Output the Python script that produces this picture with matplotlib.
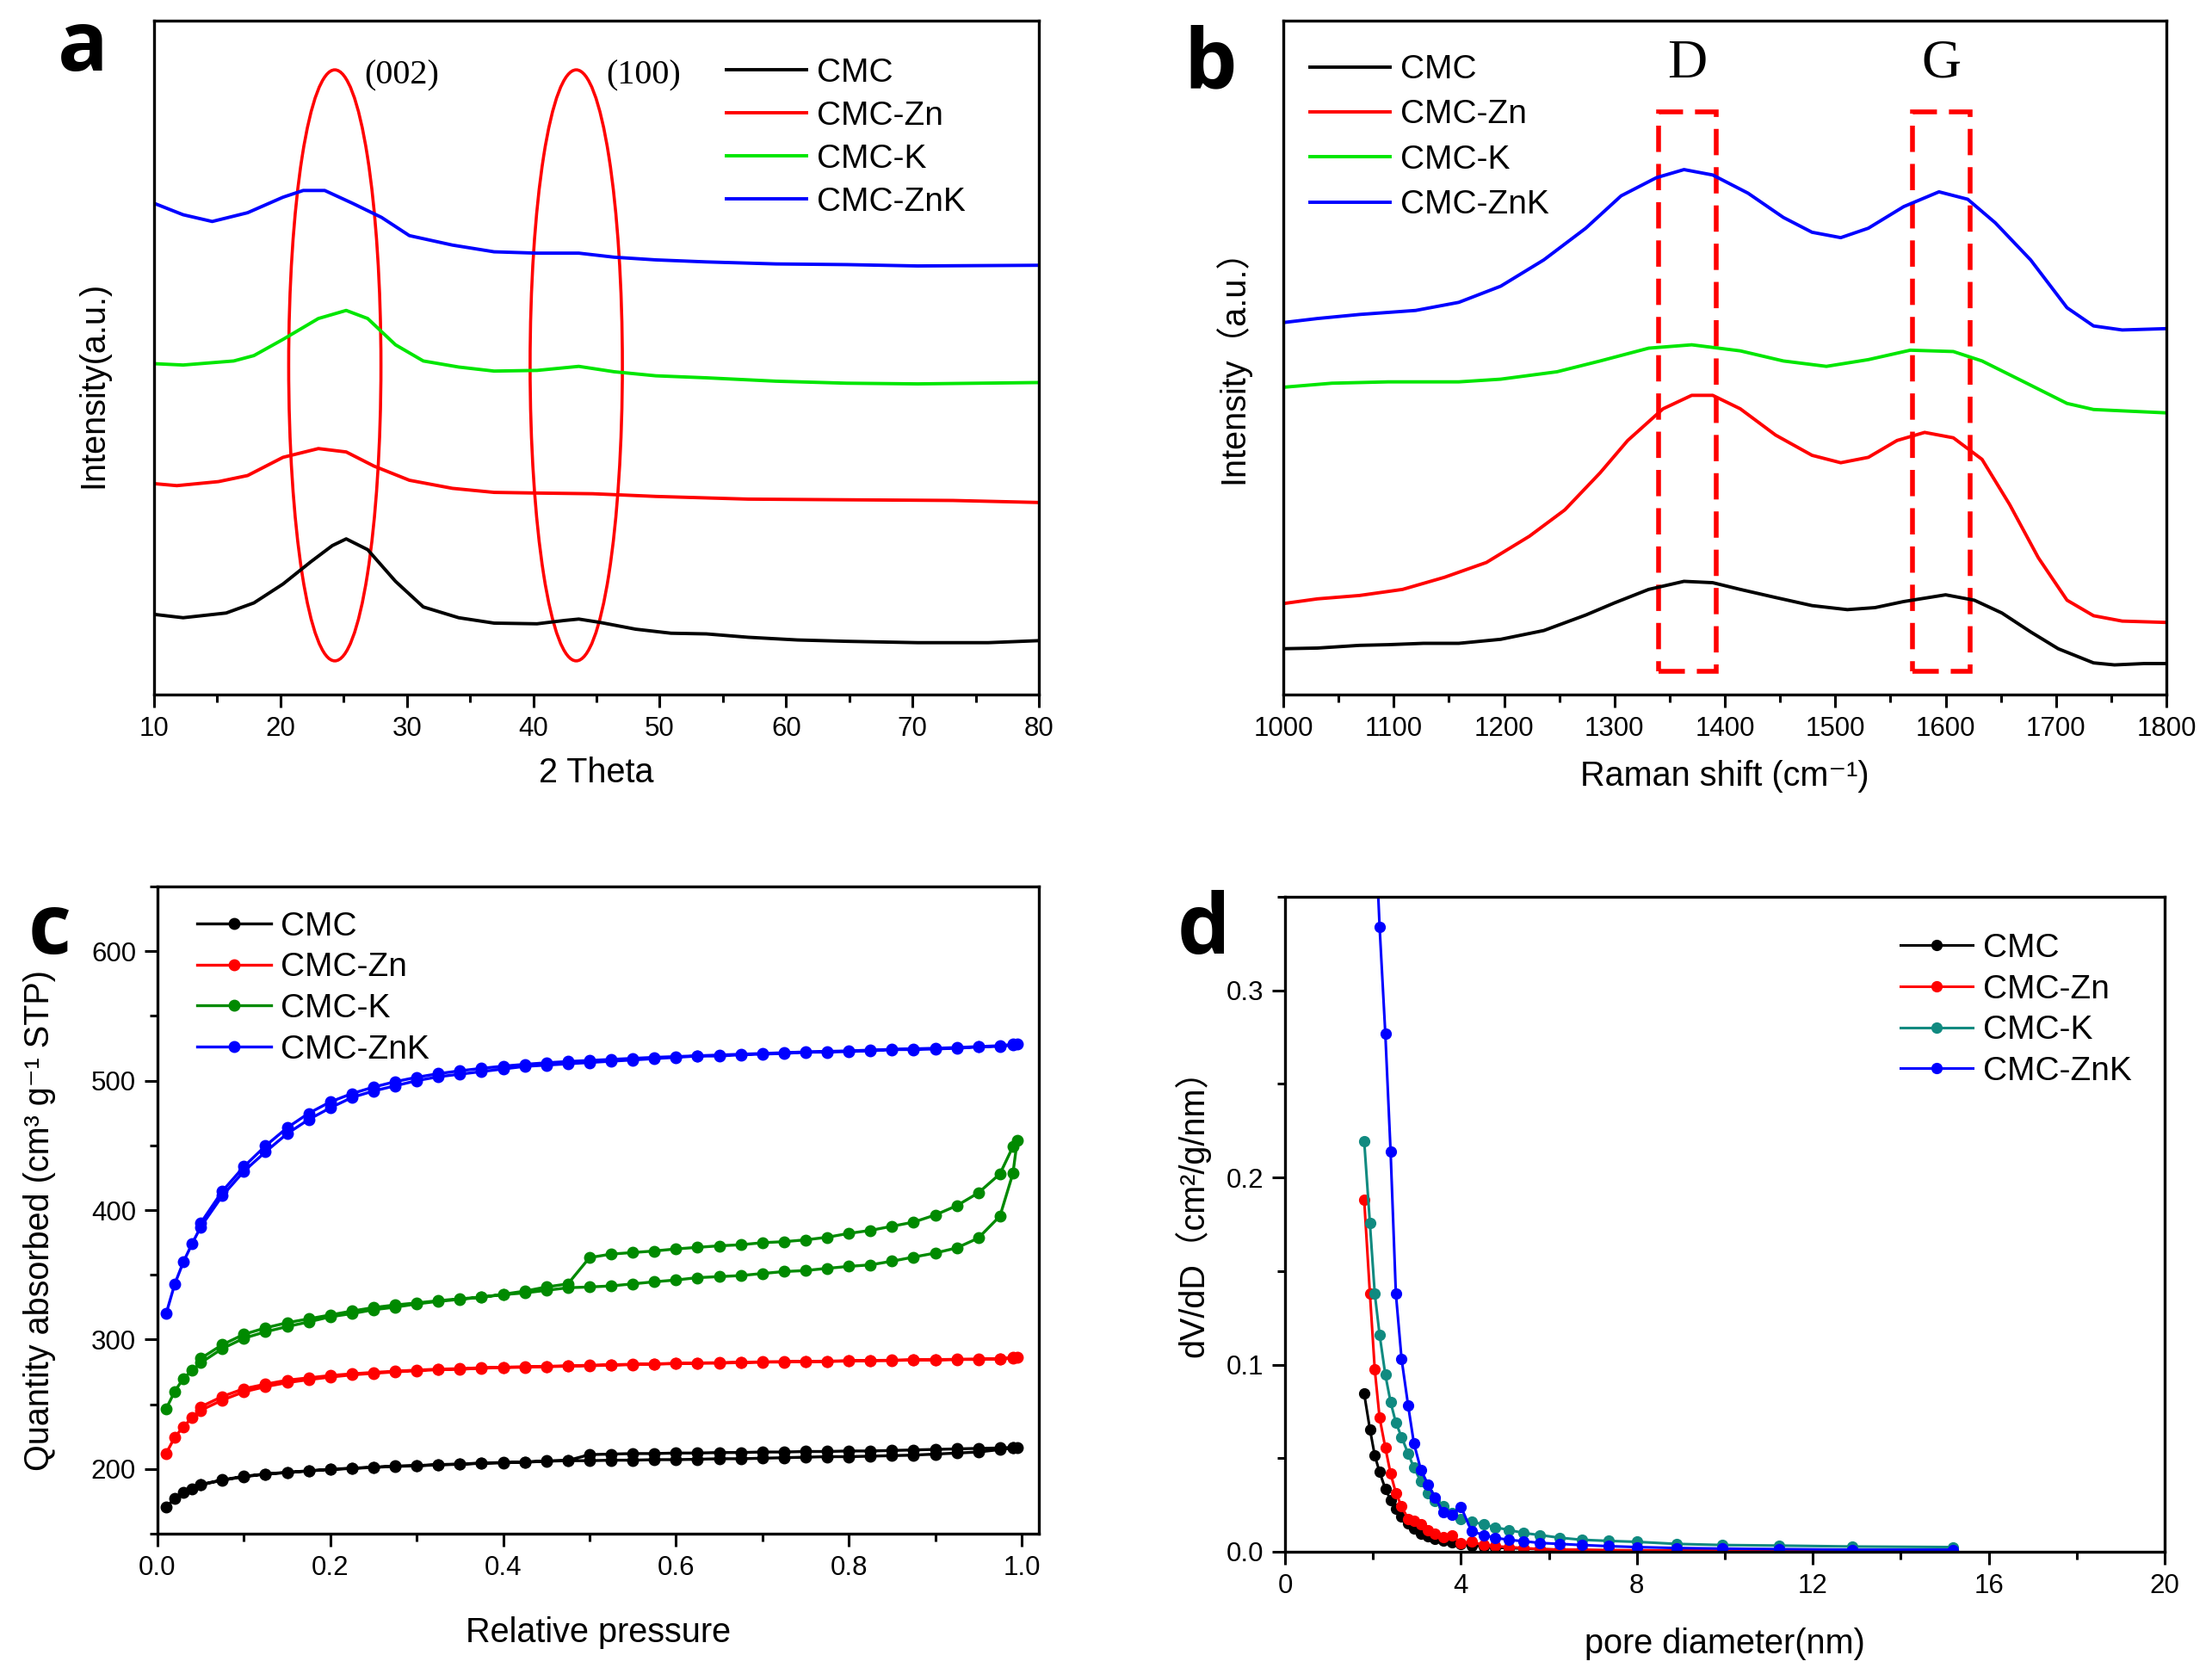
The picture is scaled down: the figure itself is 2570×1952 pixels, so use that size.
import numpy as np
import matplotlib
matplotlib.use("Agg")
import matplotlib.pyplot as plt
from matplotlib.patches import Ellipse, Rectangle
from matplotlib.ticker import MultipleLocator, FormatStrFormatter

plt.rcParams['font.family'] = ['Liberation Sans', 'DejaVu Sans']

labels = ['CMC', 'CMC-Zn', 'CMC-K', 'CMC-ZnK']

# ---- panel a : XRD (arbitrary offset intensity, 0-100 of the frame)
xrd_x_cmc = [10, 12.3, 15.7, 17.9, 20.2, 22.4, 24.1, 25.2, 26.9, 29.1, 31.3, 34.1, 36.9, 40.3,
             42.5, 43.6, 45.3, 48.1, 50.9, 53.7, 57.0, 60.9, 64.8, 70.4, 76.0, 80]
xrd_y_cmc = [11.9, 11.4, 12.1, 13.6, 16.4, 19.7, 22.1, 23.1, 21.5, 16.8, 13.0, 11.4, 10.6, 10.5,
             11.0, 11.2, 10.7, 9.7, 9.1, 9.0, 8.5, 8.1, 7.9, 7.7, 7.7, 8.0]
xrd_x_zn = [10, 11.8, 15.1, 17.4, 20.2, 23.0, 25.2, 27.4, 30.2, 33.6, 36.9, 40.3, 44.7, 49.7,
            57.0, 64.8, 73.2, 80]
xrd_y_zn = [31.3, 31.0, 31.6, 32.5, 35.2, 36.5, 36.0, 33.9, 31.8, 30.6, 30.0, 29.9, 29.8, 29.4,
            29.0, 28.9, 28.8, 28.5]
xrd_x_k = [10, 12.3, 16.3, 17.9, 20.2, 23.0, 25.2, 26.9, 29.1, 31.3, 34.1, 36.9, 40.3, 43.6,
           46.4, 49.7, 53.7, 59.2, 64.8, 70.4, 80]
xrd_y_k = [49.1, 48.9, 49.5, 50.3, 52.7, 55.8, 57.0, 55.8, 51.9, 49.5, 48.6, 48.0, 48.1, 48.7,
           47.9, 47.3, 47.0, 46.5, 46.2, 46.1, 46.3]
xrd_x_znk = [10, 12.3, 14.6, 17.4, 20.2, 21.8, 23.5, 25.7, 28.0, 30.2, 33.6, 36.9, 40.3, 43.6,
             46.4, 49.7, 53.7, 59.2, 64.8, 70.4, 80]
xrd_y_znk = [72.9, 71.2, 70.2, 71.5, 73.8, 74.8, 74.8, 72.9, 70.8, 68.1, 66.7, 65.7, 65.5, 65.5,
             64.9, 64.5, 64.2, 63.9, 63.8, 63.6, 63.7]
xrd_peaks = ['(002)', '(100)']
xrd_peak_pos = [24.3, 43.4]

# ---- panel b : Raman
ram_x_cmc = [1000, 1031, 1069, 1095, 1127, 1159, 1197, 1236, 1274, 1300, 1331, 1363, 1389, 1414,
             1446, 1479, 1511, 1536, 1562, 1600, 1626, 1651, 1677, 1702, 1734, 1753, 1780, 1800]
ram_y_cmc = [6.8, 6.9, 7.3, 7.4, 7.6, 7.6, 8.2, 9.5, 11.8, 13.6, 15.6, 16.8, 16.6, 15.6,
             14.4, 13.2, 12.6, 12.9, 13.8, 14.8, 14.0, 12.1, 9.3, 6.8, 4.7, 4.4, 4.6, 4.6]
ram_x_zn = [1000, 1031, 1069, 1108, 1146, 1184, 1223, 1255, 1287, 1312, 1344, 1370, 1389, 1414,
            1446, 1479, 1505, 1530, 1556, 1581, 1607, 1633, 1658, 1684, 1710, 1734, 1760, 1800]
ram_y_zn = [13.5, 14.2, 14.7, 15.6, 17.4, 19.6, 23.5, 27.4, 32.9, 37.7, 42.4, 44.4, 44.4, 42.4,
            38.5, 35.5, 34.4, 35.2, 37.7, 38.9, 38.1, 34.9, 28.2, 20.3, 14.0, 11.7, 10.9, 10.7]
ram_x_k = [1000, 1044, 1095, 1159, 1197, 1248, 1287, 1331, 1370, 1414, 1453, 1492, 1530, 1568,
           1607, 1633, 1671, 1710, 1734, 1760, 1800]
ram_y_k = [45.6, 46.2, 46.4, 46.4, 46.8, 47.9, 49.5, 51.4, 51.9, 51.0, 49.5, 48.7, 49.7, 51.1,
           50.9, 49.5, 46.4, 43.2, 42.3, 42.1, 41.8]
ram_x_znk = [1000, 1031, 1069, 1120, 1159, 1197, 1236, 1274, 1306, 1338, 1363, 1389, 1421, 1453,
             1479, 1505, 1530, 1562, 1594, 1620, 1645, 1677, 1710, 1734, 1760, 1800]
ram_y_znk = [55.2, 55.8, 56.4, 57.0, 58.2, 60.6, 64.5, 69.2, 74.0, 76.7, 77.9, 77.1, 74.4, 70.8,
             68.6, 67.8, 69.2, 72.4, 74.6, 73.5, 70.0, 64.5, 57.4, 54.7, 54.1, 54.3]
raman_bands = ['D', 'G']
raman_band_lo = [1340, 1570]
raman_band_hi = [1392, 1622]

# ---- panel c : N2 isotherms (adsorption then desorption)
p_ads = [0.01, 0.02, 0.03, 0.04, 0.05, 0.075, 0.1, 0.125, 0.15, 0.175, 0.2, 0.225, 0.25, 0.275,
         0.3, 0.325, 0.35, 0.375, 0.4, 0.425, 0.45, 0.475, 0.5, 0.525, 0.55, 0.575, 0.6, 0.625,
         0.65, 0.675, 0.7, 0.725, 0.75, 0.775, 0.8, 0.825, 0.85, 0.875, 0.9, 0.925, 0.95, 0.975,
         0.99, 0.995]
p_des = [0.99, 0.975, 0.95, 0.925, 0.9, 0.875, 0.85, 0.825, 0.8, 0.775, 0.75, 0.725, 0.7, 0.675,
         0.65, 0.625, 0.6, 0.575, 0.55, 0.525, 0.5, 0.475, 0.45, 0.425, 0.4, 0.375, 0.35, 0.325,
         0.3, 0.275, 0.25, 0.225, 0.2, 0.175, 0.15, 0.125, 0.1, 0.075, 0.05]
ads_cmc = [170.6, 177, 181.7, 184.9, 187.7, 191.3, 194, 196, 197.2, 198.4, 199.6, 200.4, 201.2, 202,
           202.4, 203.2, 203.6, 204.4, 204.8, 205.2, 206, 206.4, 206.4, 206.8, 206.8, 207.2, 207.2, 207.5,
           207.9, 207.9, 208.3, 208.7, 209.1, 209.5, 209.5, 209.9, 210.3, 210.7, 211.5, 212.3, 213.1, 215,
           216.2, 216.7]
des_cmc = [216.7, 216.2, 215.9, 215.5, 215.1, 214.7, 214.3, 213.9, 213.9, 213.5, 213.5, 213.1, 213.1, 212.7,
           212.7, 212.3, 212.3, 211.9, 211.9, 211.5, 211.1, 206.6, 206.2, 205.4, 205.0, 204.6, 203.8, 203.4,
           202.6, 202.2, 201.4, 200.6, 199.8, 198.6, 197.4, 196.2, 194.3, 191.6, 188.0]
ads_zn = [212, 224.6, 232.6, 239.7, 245.3, 253.2, 259.6, 263.6, 266.7, 269, 271, 272.7, 273.9, 275,
          275.9, 276.7, 277, 277.9, 278.3, 278.6, 279, 279.4, 279.8, 280.2, 280.6, 281, 281.4, 281.8,
          281.8, 282.2, 282.6, 282.6, 283, 283, 283.4, 283.8, 283.8, 284.2, 284.2, 284.6, 284.6, 285,
          285.6, 286.2]
des_zn = [286.0, 285.3, 284.9, 284.7, 284.5, 284.3, 284.0, 283.8, 283.6, 283.3, 283.1, 282.9, 282.7, 282.4,
          282.1, 281.9, 281.6, 281.2, 280.9, 280.5, 280.1, 279.7, 279.3, 279.0, 278.6, 278.2, 277.5, 277.1,
          276.4, 275.5, 274.6, 273.5, 272.2, 270.4, 268.6, 265.5, 262.0, 256.0, 248.0]
ads_k = [246.5, 260, 270, 276, 282, 293, 301, 306, 310, 313.6, 317.6, 320, 323, 325,
         327.5, 329.5, 331, 332.7, 334.7, 336, 338, 340, 340.6, 341.4, 343, 344.6, 346, 347.8,
         348.6, 349.4, 351, 352.5, 353.3, 355, 356.5, 357.7, 360.5, 363.7, 366.8, 370.8, 378.4, 395.4,
         428.4, 453.8]
des_k = [449, 428, 413.3, 403.4, 396.2, 390.7, 387.5, 384.3, 382, 379, 377, 375.6, 374.8, 373.2,
         372.4, 371.2, 370, 368.4, 367.2, 366, 363.3, 343, 340.6, 337.4, 335, 332.7, 331.5, 330,
         328.3, 326.7, 324.7, 322, 319, 316, 313, 309, 304, 296, 285.4]
ads_znk = [320, 343, 360, 374, 387, 411, 430, 445, 459, 470, 479, 487, 492, 496,
           500, 503, 505, 507, 509, 511, 512, 513, 514, 515, 516, 517, 518, 519,
           519, 520, 520.5, 521, 522, 522, 522.5, 523, 524, 524, 524.5, 525, 526, 526.5,
           527.5, 528]
des_znk = [528, 527, 526.3, 525.6, 525, 524.6, 524.2, 523.6, 523, 522.6, 522.2, 521.6, 521, 520.4,
           519.8, 519.2, 518.6, 518, 517.2, 516.4, 515.6, 514.8, 513.8, 512.6, 511.2, 509.5, 507.6, 505.4,
           502.6, 499.2, 495.0, 490.0, 483.6, 474.8, 463.6, 449.6, 433.6, 414.6, 390.0]

# ---- panel d : pore size distribution
pore_d = [1.80, 1.93, 2.04, 2.15, 2.28, 2.40, 2.52, 2.65, 2.80, 2.93, 3.09, 3.25, 3.41, 3.60,
          3.79, 4.00, 4.24, 4.52, 4.77, 5.08, 5.43, 5.80, 6.24, 6.75, 7.35, 8.00, 8.90, 9.95,
          11.24, 12.90, 15.18]
psd_cmc = [0.0844, 0.0655, 0.0515, 0.0426, 0.0337, 0.0276, 0.0228, 0.0187, 0.0153, 0.0125, 0.0097,
           0.0081, 0.0070, 0.0058, 0.0050, 0.0042, 0.0033, 0.0028, 0.0022, 0.0020, 0.0017, 0.0014,
           0.0011, 0.0008, 0.0008, 0.0006, 0.0006, 0.0005, 0.0004, 0.0004, 0.0003]
psd_zn = [0.188, 0.138, 0.0975, 0.0716, 0.0557, 0.0418, 0.0315, 0.0242, 0.0175, 0.0167, 0.0148,
          0.0114, 0.0097, 0.0078, 0.0089, 0.0047, 0.0053, 0.0036, 0.0030, 0.0025, 0.0020, 0.0014,
          0.0011, 0.0011, 0.0008, 0.0008, 0.0006, 0.0006, 0.0006, 0.0003, 0.0003]
psd_k = [0.2195, 0.1755, 0.138, 0.116, 0.0947, 0.080, 0.069, 0.0613, 0.0524, 0.045, 0.0376,
         0.0315, 0.027, 0.0245, 0.0209, 0.0175, 0.0162, 0.0145, 0.0131, 0.0117, 0.0100, 0.0089,
         0.0075, 0.0064, 0.0058, 0.0053, 0.0042, 0.0036, 0.0033, 0.0028, 0.0025]
psd_znk = [0.62, 0.49, 0.393, 0.334, 0.277, 0.214, 0.138, 0.103, 0.078, 0.058, 0.0437,
           0.036, 0.029, 0.021, 0.020, 0.024, 0.011, 0.0089, 0.0075, 0.0064, 0.0056, 0.0047,
           0.0042, 0.0036, 0.0030, 0.0025, 0.0020, 0.0017, 0.0014, 0.0011, 0.0011]

bright = ['black', '#ff0000', '#00e600', '#0000ff']
dark_c = ['black', '#ff0000', '#008a00', '#0000ff']
dark_d = ['black', '#ff0000', '#108a80', '#0000ff']

TICK = 22.5
LEG = 28
LAB = 28.5
CJK = ['Liberation Sans', 'Noto Sans CJK SC', 'DejaVu Sans']

W, H = 2570, 1952
fig = plt.figure(figsize=(W / 100, H / 100), dpi=100)


def box(l, t, r, b):
    return [l / W, 1 - b / H, (r - l) / W, (b - t) / H]


def style(ax):
    for s in ax.spines.values():
        s.set_linewidth(2.4)
    ax.tick_params(which='major', direction='out', length=11, width=2.2, labelsize=TICK, pad=7,
                   top=False, right=False)
    ax.tick_params(which='minor', direction='out', length=6.5, width=2.2, top=False, right=False)


def legend(ax, x, y, hl, sp):
    ax.legend(loc='upper left', bbox_to_anchor=(x, y), frameon=False, fontsize=LEG,
              handlelength=hl, handletextpad=0.3, labelspacing=sp, borderpad=0, borderaxespad=0,
              numpoints=1)


ax_a = fig.add_axes(box(179, 24, 1207, 807))
ax_b = fig.add_axes(box(1491, 24, 2517, 807))
ax_c = fig.add_axes(box(183, 1030, 1207, 1782))
ax_d = fig.add_axes(box(1493, 1042, 2515, 1803))

# a
for x, y, c, lab in zip([xrd_x_cmc, xrd_x_zn, xrd_x_k, xrd_x_znk],
                        [xrd_y_cmc, xrd_y_zn, xrd_y_k, xrd_y_znk], bright, labels):
    ax_a.plot(x, y, color=c, lw=2.8, label=lab, solid_joinstyle='round')
for name, pos in zip(xrd_peaks, xrd_peak_pos):
    ax_a.add_patch(Ellipse((pos, 48.85), 7.3, 87.7, fill=False, edgecolor='#ff0000', lw=2.6))
    ax_a.text(pos + 5.3, 91.8, name, family='Liberation Serif', fontsize=29, ha='center', va='center')
ax_a.set_xlim(10, 80)
ax_a.set_ylim(0, 100)
ax_a.set_yticks([])
ax_a.xaxis.set_major_locator(MultipleLocator(10))
ax_a.xaxis.set_minor_locator(MultipleLocator(5))
style(ax_a)
ax_a.set_xlabel('2 Theta', fontsize=LAB)
ax_a.xaxis.set_label_coords(0.5, -0.092)
ax_a.set_ylabel('Intensity(a.u.)', fontsize=LAB)
ax_a.yaxis.set_label_coords(-0.05, 0.46)
legend(ax_a, 0.647, 0.945, 2.4, 0.36)

# b
for x, y, c, lab in zip([ram_x_cmc, ram_x_zn, ram_x_k, ram_x_znk],
                        [ram_y_cmc, ram_y_zn, ram_y_k, ram_y_znk], bright, labels):
    ax_b.plot(x, y, color=c, lw=2.8, label=lab, solid_joinstyle='round')
for name, lo, hi in zip(raman_bands, raman_band_lo, raman_band_hi):
    ax_b.add_patch(Rectangle((lo, 3.5), hi - lo, 82.9, fill=False, edgecolor='#ff0000', lw=4,
                             linestyle=(0, (5.5, 2.5))))
    ax_b.text((lo + hi) / 2, 93.5, name, family='Liberation Serif', fontsize=46, ha='center', va='center')
ax_b.set_xlim(1000, 1800)
ax_b.set_ylim(0, 100)
ax_b.set_yticks([])
ax_b.xaxis.set_major_locator(MultipleLocator(100))
ax_b.xaxis.set_minor_locator(MultipleLocator(50))
style(ax_b)
ax_b.set_xlabel('Raman shift (cm\u207b\u00b9)', fontsize=LAB)
ax_b.xaxis.set_label_coords(0.5, -0.097)
ax_b.set_ylabel('Intensity\uff08a.u.\uff09', fontsize=LAB, family=CJK)
ax_b.yaxis.set_label_coords(-0.038, 0.5)
legend(ax_b, 0.03, 0.95, 2.4, 0.42)

# c
for a_vals, d_vals, c, lab in zip([ads_cmc, ads_zn, ads_k, ads_znk], [des_cmc, des_zn, des_k, des_znk],
                                  dark_c, labels):
    ax_c.plot(p_ads + p_des, a_vals + d_vals, color=c, lw=2.4, marker='o', ms=9, label=lab)
ax_c.set_xlim(0, 1.02)
ax_c.set_ylim(150, 650)
ax_c.xaxis.set_major_locator(MultipleLocator(0.2))
ax_c.xaxis.set_minor_locator(MultipleLocator(0.1))
ax_c.xaxis.set_major_formatter(FormatStrFormatter('%.1f'))
ax_c.yaxis.set_major_locator(MultipleLocator(100))
ax_c.yaxis.set_minor_locator(MultipleLocator(50))
style(ax_c)
ax_c.set_xlabel('Relative pressure', fontsize=LAB)
ax_c.xaxis.set_label_coords(0.5, -0.128)
ax_c.set_ylabel('Quantity absorbed (cm\u00b3 g\u207b\u00b9 STP)', fontsize=LAB)
ax_c.yaxis.set_label_coords(-0.115, 0.484)
legend(ax_c, 0.045, 0.962, 2.2, 0.3)

# d
for y, c, lab in zip([psd_cmc, psd_zn, psd_k, psd_znk], dark_d, labels):
    ax_d.plot(pore_d, y, color=c, lw=2.2, marker='o', ms=8.5, label=lab)
ax_d.set_xlim(0, 20)
ax_d.set_ylim(0, 0.35)
ax_d.xaxis.set_major_locator(MultipleLocator(4))
ax_d.xaxis.set_minor_locator(MultipleLocator(2))
ax_d.yaxis.set_major_locator(MultipleLocator(0.1))
ax_d.yaxis.set_minor_locator(MultipleLocator(0.05))
ax_d.yaxis.set_major_formatter(FormatStrFormatter('%.1f'))
style(ax_d)
ax_d.set_xlabel('pore diameter(nm)', fontsize=LAB)
ax_d.xaxis.set_label_coords(0.5, -0.115)
ax_d.set_ylabel('dV/dD\uff08cm\u00b2/g/nm\uff09', fontsize=LAB, family=CJK)
ax_d.yaxis.set_label_coords(-0.085, 0.53)
legend(ax_d, 0.70, 0.945, 2.15, 0.3)

# panel letters
for letter, x, y in [('a', 67, 82), ('b', 1375, 102), ('c', 33, 1108), ('d', 1368, 1108)]:
    fig.text(x / W, 1 - y / H, letter, fontsize=70, fontweight='bold', family=['Open Sans', 'DejaVu Sans'],
             ha='left', va='baseline')

fig.savefig('out.png', dpi=100, facecolor='white')
